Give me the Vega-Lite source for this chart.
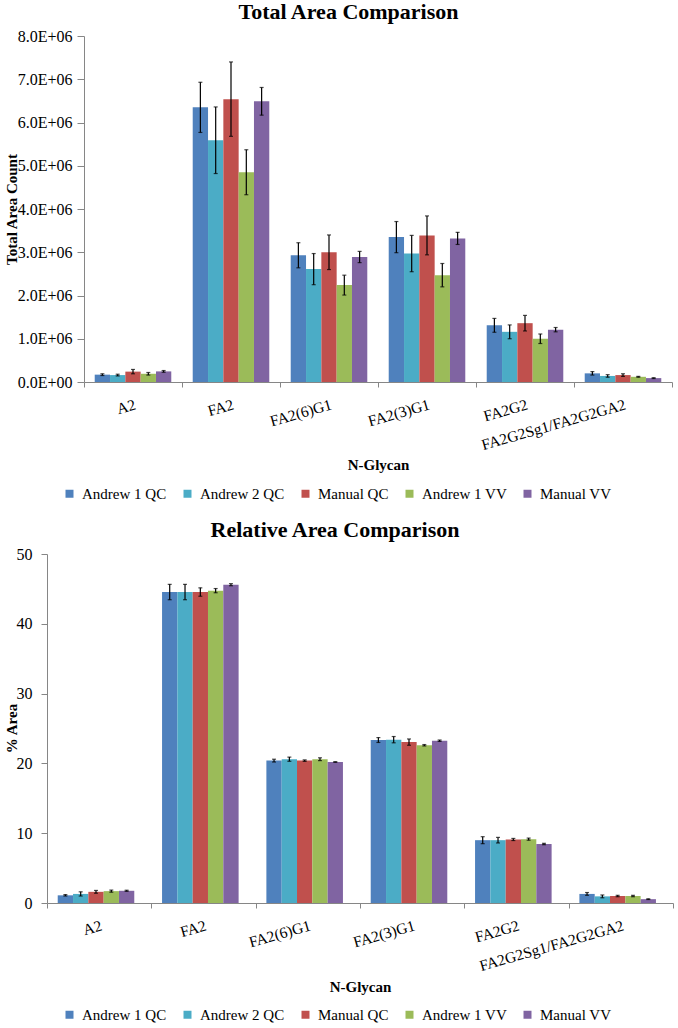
{
  "$schema": "https://vega.github.io/schema/vega-lite/v6.json",
  "padding": {"left": 4, "top": 1, "right": 0, "bottom": 0},
  "background": "white",
  "config": {
    "font": "Liberation Serif",
    "view": {"stroke": null},
    "axis": {"grid": false, "domainColor": "#868686", "tickColor": "#868686", "labelColor": "black", "titleColor": "black", "labelFont": "Liberation Serif", "titleFont": "Liberation Serif"},
    "title": {"font": "Liberation Serif", "fontSize": 22, "fontWeight": "bold", "color": "black", "anchor": "middle"},
    "legend": {"labelFont": "Liberation Serif", "labelFontSize": 15, "labelColor": "black"}
  },
  "datasets": {
    "total": [
      {"glycan": "A2", "series": "Andrew 1 QC", "value": 170000, "lo": 150000, "hi": 190000},
      {"glycan": "A2", "series": "Andrew 2 QC", "value": 160000, "lo": 140000, "hi": 180000},
      {"glycan": "A2", "series": "Manual QC", "value": 240000, "lo": 190000, "hi": 290000},
      {"glycan": "A2", "series": "Andrew 1 VV", "value": 190000, "lo": 160000, "hi": 220000},
      {"glycan": "A2", "series": "Manual VV", "value": 245000, "lo": 225000, "hi": 265000},
      {"glycan": "FA2", "series": "Andrew 1 QC", "value": 6350000, "lo": 5770000, "hi": 6930000},
      {"glycan": "FA2", "series": "Andrew 2 QC", "value": 5590000, "lo": 4820000, "hi": 6360000},
      {"glycan": "FA2", "series": "Manual QC", "value": 6540000, "lo": 5680000, "hi": 7400000},
      {"glycan": "FA2", "series": "Andrew 1 VV", "value": 4850000, "lo": 4330000, "hi": 5370000},
      {"glycan": "FA2", "series": "Manual VV", "value": 6490000, "lo": 6170000, "hi": 6810000},
      {"glycan": "FA2(6)G1", "series": "Andrew 1 QC", "value": 2930000, "lo": 2640000, "hi": 3220000},
      {"glycan": "FA2(6)G1", "series": "Andrew 2 QC", "value": 2610000, "lo": 2250000, "hi": 2970000},
      {"glycan": "FA2(6)G1", "series": "Manual QC", "value": 3000000, "lo": 2600000, "hi": 3400000},
      {"glycan": "FA2(6)G1", "series": "Andrew 1 VV", "value": 2240000, "lo": 2010000, "hi": 2470000},
      {"glycan": "FA2(6)G1", "series": "Manual VV", "value": 2890000, "lo": 2760000, "hi": 3020000},
      {"glycan": "FA2(3)G1", "series": "Andrew 1 QC", "value": 3350000, "lo": 2990000, "hi": 3710000},
      {"glycan": "FA2(3)G1", "series": "Andrew 2 QC", "value": 2970000, "lo": 2550000, "hi": 3390000},
      {"glycan": "FA2(3)G1", "series": "Manual QC", "value": 3390000, "lo": 2940000, "hi": 3840000},
      {"glycan": "FA2(3)G1", "series": "Andrew 1 VV", "value": 2470000, "lo": 2200000, "hi": 2740000},
      {"glycan": "FA2(3)G1", "series": "Manual VV", "value": 3320000, "lo": 3180000, "hi": 3460000},
      {"glycan": "FA2G2", "series": "Andrew 1 QC", "value": 1310000, "lo": 1150000, "hi": 1470000},
      {"glycan": "FA2G2", "series": "Andrew 2 QC", "value": 1160000, "lo": 1000000, "hi": 1320000},
      {"glycan": "FA2G2", "series": "Manual QC", "value": 1360000, "lo": 1180000, "hi": 1540000},
      {"glycan": "FA2G2", "series": "Andrew 1 VV", "value": 1000000, "lo": 890000, "hi": 1110000},
      {"glycan": "FA2G2", "series": "Manual VV", "value": 1210000, "lo": 1160000, "hi": 1260000},
      {"glycan": "FA2G2Sg1/FA2G2GA2", "series": "Andrew 1 QC", "value": 200000, "lo": 160000, "hi": 240000},
      {"glycan": "FA2G2Sg1/FA2G2GA2", "series": "Andrew 2 QC", "value": 140000, "lo": 110000, "hi": 170000},
      {"glycan": "FA2G2Sg1/FA2G2GA2", "series": "Manual QC", "value": 160000, "lo": 130000, "hi": 190000},
      {"glycan": "FA2G2Sg1/FA2G2GA2", "series": "Andrew 1 VV", "value": 120000, "lo": 110000, "hi": 130000},
      {"glycan": "FA2G2Sg1/FA2G2GA2", "series": "Manual VV", "value": 90000, "lo": 80000, "hi": 100000}
    ],
    "relative": [
      {"glycan": "A2", "series": "Andrew 1 QC", "value": 1.1, "lo": 1.0, "hi": 1.2},
      {"glycan": "A2", "series": "Andrew 2 QC", "value": 1.3, "lo": 1.0, "hi": 1.6},
      {"glycan": "A2", "series": "Manual QC", "value": 1.6, "lo": 1.4, "hi": 1.8},
      {"glycan": "A2", "series": "Andrew 1 VV", "value": 1.7, "lo": 1.55, "hi": 1.85},
      {"glycan": "A2", "series": "Manual VV", "value": 1.75, "lo": 1.67, "hi": 1.83},
      {"glycan": "FA2", "series": "Andrew 1 QC", "value": 44.55, "lo": 43.45, "hi": 45.65},
      {"glycan": "FA2", "series": "Andrew 2 QC", "value": 44.55, "lo": 43.45, "hi": 45.65},
      {"glycan": "FA2", "series": "Manual QC", "value": 44.55, "lo": 43.95, "hi": 45.15},
      {"glycan": "FA2", "series": "Andrew 1 VV", "value": 44.75, "lo": 44.45, "hi": 45.05},
      {"glycan": "FA2", "series": "Manual VV", "value": 45.6, "lo": 45.45, "hi": 45.75},
      {"glycan": "FA2(6)G1", "series": "Andrew 1 QC", "value": 20.4, "lo": 20.2, "hi": 20.6},
      {"glycan": "FA2(6)G1", "series": "Andrew 2 QC", "value": 20.6, "lo": 20.3, "hi": 20.9},
      {"glycan": "FA2(6)G1", "series": "Manual QC", "value": 20.4, "lo": 20.3, "hi": 20.5},
      {"glycan": "FA2(6)G1", "series": "Andrew 1 VV", "value": 20.6, "lo": 20.4, "hi": 20.8},
      {"glycan": "FA2(6)G1", "series": "Manual VV", "value": 20.2, "lo": 20.15, "hi": 20.25},
      {"glycan": "FA2(3)G1", "series": "Andrew 1 QC", "value": 23.35, "lo": 23.0, "hi": 23.7},
      {"glycan": "FA2(3)G1", "series": "Andrew 2 QC", "value": 23.4, "lo": 22.95, "hi": 23.85},
      {"glycan": "FA2(3)G1", "series": "Manual QC", "value": 23.05, "lo": 22.6, "hi": 23.5},
      {"glycan": "FA2(3)G1", "series": "Andrew 1 VV", "value": 22.6, "lo": 22.5, "hi": 22.7},
      {"glycan": "FA2(3)G1", "series": "Manual VV", "value": 23.25, "lo": 23.15, "hi": 23.35},
      {"glycan": "FA2G2", "series": "Andrew 1 QC", "value": 9.0, "lo": 8.5, "hi": 9.5},
      {"glycan": "FA2G2", "series": "Andrew 2 QC", "value": 9.0, "lo": 8.6, "hi": 9.4},
      {"glycan": "FA2G2", "series": "Manual QC", "value": 9.1, "lo": 8.95, "hi": 9.25},
      {"glycan": "FA2G2", "series": "Andrew 1 VV", "value": 9.15, "lo": 9.0, "hi": 9.3},
      {"glycan": "FA2G2", "series": "Manual VV", "value": 8.45, "lo": 8.35, "hi": 8.55},
      {"glycan": "FA2G2Sg1/FA2G2GA2", "series": "Andrew 1 QC", "value": 1.3, "lo": 1.1, "hi": 1.5},
      {"glycan": "FA2G2Sg1/FA2G2GA2", "series": "Andrew 2 QC", "value": 0.95, "lo": 0.75, "hi": 1.15},
      {"glycan": "FA2G2Sg1/FA2G2GA2", "series": "Manual QC", "value": 1.0, "lo": 0.9, "hi": 1.1},
      {"glycan": "FA2G2Sg1/FA2G2GA2", "series": "Andrew 1 VV", "value": 1.0, "lo": 0.9, "hi": 1.1},
      {"glycan": "FA2G2Sg1/FA2G2GA2", "series": "Manual VV", "value": 0.55, "lo": 0.5, "hi": 0.6}
    ]
  },
  "concat": [
    {
      "title": {"text": "Total Area Comparison", "offset": 4, "dx": -11},
      "width": 625,
      "height": 346,
      "data": {"name": "total"},
      "encoding": {
        "x": {"field": "glycan", "type": "nominal", "sort": ["A2", "FA2", "FA2(6)G1", "FA2(3)G1", "FA2G2", "FA2G2Sg1/FA2G2GA2"],
          "scale": {"paddingInner": 0, "paddingOuter": 0, "range": [37, 625]},
          "axis": {"title": "N-Glycan", "tickBand": "extent", "labelAngle": -16, "labelAlign": "right", "labelBaseline": "top", "labelPadding": 10, "tickSize": 5, "labelFontSize": 15.5, "labelOverlap": false, "labelLimit": 300, "titleFontSize": 15, "titleFontWeight": "bold", "titleY": 82, "titleBaseline": "middle"}},
        "xOffset": {"field": "series", "type": "nominal", "sort": ["Andrew 1 QC", "Andrew 2 QC", "Manual QC", "Andrew 1 VV", "Manual VV"], "scale": {"paddingInner": 0, "paddingOuter": 0.7}}
      },
      "layer": [
        {
          "mark": {"type": "bar"},
          "encoding": {
            "y": {"field": "value", "type": "quantitative", "scale": {"domain": [0, 8000000]},
              "axis": {"title": "Total Area Count", "offset": -37, "values": [0, 1000000, 2000000, 3000000, 4000000, 5000000, 6000000, 7000000, 8000000],
                "labelExpr": "datum.value == 0 ? '0.0E+00' : format(datum.value / 1000000, '.1f') + 'E+06'",
                "labelOverlap": false, "labelFontSize": 16, "tickSize": 7, "labelPadding": 5, "titleFontSize": 15, "titleFontWeight": "bold", "titleX": -73, "titleY": 173, "titleAngle": -90, "titleBaseline": "middle", "titleAlign": "center"}},
            "color": {"field": "series", "type": "nominal", "sort": ["Andrew 1 QC", "Andrew 2 QC", "Manual QC", "Andrew 1 VV", "Manual VV"],
              "scale": {"domain": ["Andrew 1 QC", "Andrew 2 QC", "Manual QC", "Andrew 1 VV", "Manual VV"], "range": ["#4F81BD", "#4BACC6", "#C0504D", "#9BBB59", "#8064A2"]},
              "legend": {"title": null, "orient": "none", "direction": "horizontal", "columns": 5, "legendX": 15, "legendY": 450, "symbolType": "square", "symbolSize": 64, "symbolStrokeWidth": 0, "columnPadding": 13, "labelOffset": 5}}
          }
        },
        {
          "mark": {"type": "rule", "color": "black", "strokeWidth": 1.2},
          "encoding": {"y": {"field": "lo", "type": "quantitative"}, "y2": {"field": "hi"}}
        },
        {
          "mark": {"type": "tick", "color": "black", "thickness": 1.2, "size": 4},
          "encoding": {"y": {"field": "lo", "type": "quantitative"}}
        },
        {
          "mark": {"type": "tick", "color": "black", "thickness": 1.2, "size": 4},
          "encoding": {"y": {"field": "hi", "type": "quantitative"}}
        }
      ]
    },
    {
      "title": {"text": "Relative Area Comparison", "offset": 4, "dx": -25},
      "width": 626,
      "height": 349,
      "data": {"name": "relative"},
      "encoding": {
        "x": {"field": "glycan", "type": "nominal", "sort": ["A2", "FA2", "FA2(6)G1", "FA2(3)G1", "FA2G2", "FA2G2Sg1/FA2G2GA2"],
          "scale": {"paddingInner": 0, "paddingOuter": 0},
          "axis": {"title": "N-Glycan", "tickBand": "extent", "labelAngle": -16, "labelAlign": "right", "labelBaseline": "top", "labelPadding": 10, "tickSize": 5, "labelFontSize": 15.5, "labelOverlap": false, "labelLimit": 300, "titleFontSize": 15, "titleFontWeight": "bold", "titleY": 83, "titleBaseline": "middle"}},
        "xOffset": {"field": "series", "type": "nominal", "sort": ["Andrew 1 QC", "Andrew 2 QC", "Manual QC", "Andrew 1 VV", "Manual VV"], "scale": {"paddingInner": 0, "paddingOuter": 0.7}}
      },
      "layer": [
        {
          "mark": {"type": "bar"},
          "encoding": {
            "y": {"field": "value", "type": "quantitative", "scale": {"domain": [0, 50]},
              "axis": {"title": "% Area", "values": [0, 5, 10, 15, 20, 25, 30, 35, 40, 45, 50],
                "labelOverlap": false, "labelFontSize": 16, "tickSize": 6, "labelPadding": 9, "titleFontSize": 15, "titleFontWeight": "bold", "titleX": -36, "titleY": 174, "titleAngle": -90, "titleBaseline": "middle", "titleAlign": "center"}},
            "color": {"field": "series", "type": "nominal", "sort": ["Andrew 1 QC", "Andrew 2 QC", "Manual QC", "Andrew 1 VV", "Manual VV"],
              "scale": {"domain": ["Andrew 1 QC", "Andrew 2 QC", "Manual QC", "Andrew 1 VV", "Manual VV"], "range": ["#4F81BD", "#4BACC6", "#C0504D", "#9BBB59", "#8064A2"]},
              "legend": {"title": null, "orient": "none", "direction": "horizontal", "columns": 5, "legendX": 15, "legendY": 453, "symbolType": "square", "symbolSize": 64, "symbolStrokeWidth": 0, "columnPadding": 13, "labelOffset": 5}}
          }
        },
        {
          "mark": {"type": "rule", "color": "black", "strokeWidth": 1.2},
          "encoding": {"y": {"field": "lo", "type": "quantitative"}, "y2": {"field": "hi"}}
        },
        {
          "mark": {"type": "tick", "color": "black", "thickness": 1.2, "size": 4},
          "encoding": {"y": {"field": "lo", "type": "quantitative"}}
        },
        {
          "mark": {"type": "tick", "color": "black", "thickness": 1.2, "size": 4},
          "encoding": {"y": {"field": "hi", "type": "quantitative"}}
        }
      ]
    }
  ],
  "columns": 1,
  "spacing": 17,
  "resolve": {"scale": {"color": "independent"}, "legend": {"color": "independent"}}
}
